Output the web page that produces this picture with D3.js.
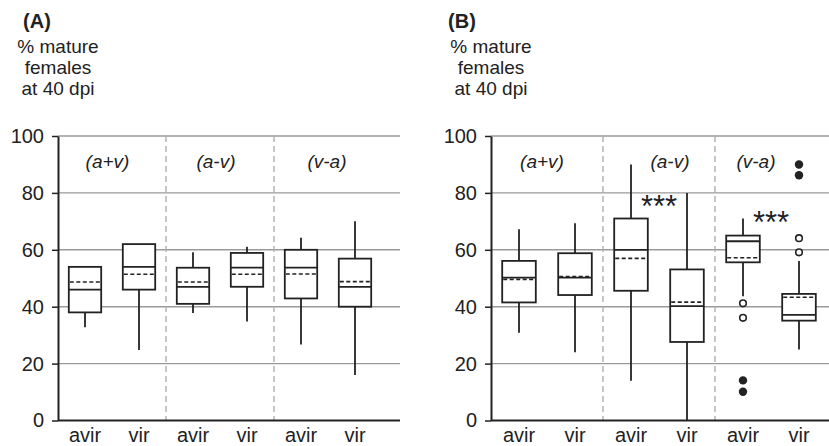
<!DOCTYPE html>
<html>
<head>
<meta charset="utf-8">
<script src="https://cdn.jsdelivr.net/npm/d3@7"></script>
<style>
  body { margin: 0; background: #fff; }
  svg text { font-family: "Liberation Sans", Arial, sans-serif; fill: #222; }
</style>
</head>
<body>
<div id="chart"></div>
<script>
// groups and strains
var groups = ['(a+v)', '(a-v)', '(v-a)'];
var strains = ['avir', 'vir'];
var yTicks = [0, 20, 40, 60, 80, 100];

// box stats per panel: [low, q1, median, q3, high, mean], order = group x strain
var statsA = [
    [32.8, 38, 46, 54, 54, 48.7],
    [24.8, 46, 54, 62, 62, 51.4],
    [37.8, 41, 47, 53.7, 59.1, 48.7],
    [34.8, 47, 53.7, 58.9, 61.1, 51.4],
    [26.7, 42.9, 53.7, 60, 64.2, 51.5],
    [16, 40, 47, 56.9, 70, 48.8]
];
var statsB = [
    [30.8, 41.5, 50.2, 56.1, 67.2, 49.6],
    [24, 44.1, 50.2, 58.8, 69.3, 50.6],
    [14, 45.6, 60, 71, 90, 57],
    [0, 27.6, 40.2, 53.1, 80, 41.6],
    [43.7, 55.6, 63, 65, 71, 57.2],
    [25, 35.1, 37.1, 44.5, 56.1, 43.3]
];
// outliers: [box index, value]
var openB = [[4, 41.2], [4, 36.1], [5, 64.1], [5, 59.1]];
var filledB = [[4, 14.1], [4, 10.1], [5, 90], [5, 86.2]];
// significance marks: [group index, y value of baseline]
var sigB = [[1, 71.5], [2, 66]];

var svg = d3.select('#chart')
    .append('svg')
    .attr('width', 829)
    .attr('height', 446)

var yTop = 136, yBottom = 420.5;

function drawPanel(p) {
    var keys = [];
    groups.forEach(function(g) {
        strains.forEach(function(s) { keys.push(g + '|' + s); });
    });

    var x = d3.scaleBand()
        .domain(keys)
        .range([p.left, p.left + p.band * 6])
        .paddingInner(0.4)
        .paddingOuter(0.2)

    var y = d3.scaleLinear()
        .domain([0, 100])
        .range([yBottom, yTop])

    var g = svg.append('g');

    // panel letter + y title
    g.append('text')
        .attr('x', p.letterX).attr('y', 28)
        .attr('text-anchor', 'middle')
        .style('font-size', '20px').style('font-weight', 'bold')
        .text(p.letter)
    var title = ['% mature', 'females', 'at 40 dpi'];
    title.forEach(function(t, i) {
        g.append('text')
            .attr('x', p.left).attr('y', 53 + i * 21)
            .attr('text-anchor', 'middle')
            .style('font-size', '19px')
            .text(t)
    })

    // grid lines
    g.selectAll('.grid')
        .data(yTicks.filter(function(d) { return d > 0; }))
        .enter().append('line')
        .attr('x1', p.left).attr('x2', p.gridRight)
        .attr('y1', function(d) { return y(d); })
        .attr('y2', function(d) { return y(d); })
        .style('stroke', '#9a9a9a').style('stroke-width', 1.4)

    // group separators
    var sepX = [1, 2].map(function(i) { return p.left + p.band * 2 * i; });
    g.selectAll('.sep')
        .data(sepX)
        .enter().append('line')
        .attr('x1', function(d) { return d; }).attr('x2', function(d) { return d; })
        .attr('y1', y(100)).attr('y2', y(0))
        .style('stroke', '#b0b0b0').style('stroke-width', 1.4)
        .style('stroke-dasharray', '6,4')

    // group labels
    groups.forEach(function(name, i) {
        g.append('text')
            .attr('x', p.left + p.band * (2 * i + 1) + p.labelShift[i])
            .attr('y', 168)
            .attr('text-anchor', 'middle')
            .style('font-size', '19px').style('font-style', 'italic')
            .text(name)
    })

    // y axis
    var yAxis = d3.axisLeft(y)
        .tickValues(yTicks)
        .tickSize(6)
        .tickPadding(8)
        .tickSizeOuter(0)
    var ya = g.append('g')
        .attr('transform', 'translate(' + p.left + ',0)')
        .call(yAxis)
    ya.select('.domain').style('stroke', '#222').style('stroke-width', 2)
    ya.selectAll('.tick line').style('stroke', '#222').style('stroke-width', 1.5)
    ya.selectAll('.tick text').style('font-size', '20px').style('fill', '#222')

    // x axis
    var xAxis = d3.axisBottom(x)
        .tickSize(0)
        .tickFormat(function(d) { return d.split('|')[1]; })
    var xa = g.append('g')
        .attr('transform', 'translate(0,' + y(0) + ')')
        .call(xAxis)
    xa.select('.domain').remove()
    xa.selectAll('.tick text')
        .attr('y', 21.5).attr('dy', null)
        .style('font-size', '20px').style('fill', '#222')
    g.append('line')
        .attr('x1', p.left).attr('x2', p.gridRight)
        .attr('y1', y(0)).attr('y2', y(0))
        .style('stroke', '#222').style('stroke-width', 2)

    // boxes
    var bw = x.bandwidth();
    var boxes = g.selectAll('.box')
        .data(p.stats)
        .enter().append('g')
        .attr('transform', function(d, i) { return 'translate(' + x(keys[i]) + ',0)'; })

    boxes.append('line')
        .attr('x1', bw / 2).attr('x2', bw / 2)
        .attr('y1', function(d) { return y(d[0]); })
        .attr('y2', function(d) { return y(d[4]); })
        .style('stroke', '#222').style('stroke-width', 1.8)
    boxes.append('rect')
        .attr('x', 0).attr('width', bw)
        .attr('y', function(d) { return y(d[3]); })
        .attr('height', function(d) { return y(d[1]) - y(d[3]); })
        .style('fill', '#fff').style('stroke', '#222').style('stroke-width', 1.8)
    boxes.append('line')
        .attr('x1', 0).attr('x2', bw)
        .attr('y1', function(d) { return y(d[2]); })
        .attr('y2', function(d) { return y(d[2]); })
        .style('stroke', '#222').style('stroke-width', 1.8)
    boxes.append('line')
        .attr('x1', 1).attr('x2', bw - 1)
        .attr('y1', function(d) { return y(d[5]); })
        .attr('y2', function(d) { return y(d[5]); })
        .style('stroke', '#222').style('stroke-width', 1.6)
        .style('stroke-dasharray', '4,2.5')

    // outliers
    g.selectAll('.open')
        .data(p.open)
        .enter().append('circle')
        .attr('cx', function(d) { return x(keys[d[0]]) + bw / 2; })
        .attr('cy', function(d) { return y(d[1]); })
        .attr('r', 3.3)
        .style('fill', '#fff').style('stroke', '#222').style('stroke-width', 1.6)
    g.selectAll('.filled')
        .data(p.filled)
        .enter().append('circle')
        .attr('cx', function(d) { return x(keys[d[0]]) + bw / 2; })
        .attr('cy', function(d) { return y(d[1]); })
        .attr('r', 4.2)
        .style('fill', '#222')

    // significance
    g.selectAll('.sig')
        .data(p.sig)
        .enter().append('text')
        .attr('x', function(d) { return p.left + p.band * (2 * d[0] + 1); })
        .attr('y', function(d) { return y(d[1]); })
        .attr('text-anchor', 'middle')
        .style('font-size', '31px')
        .text('***')
}

drawPanel({
    letter: '(A)', letterX: 37, left: 58, band: 54, gridRight: 400,
    labelShift: [-4.5, -4, -1], stats: statsA, open: [], filled: [], sig: []
})
drawPanel({
    letter: '(B)', letterX: 462, left: 491, band: 56, gridRight: 829,
    labelShift: [-5, 11, -15], stats: statsB, open: openB, filled: filledB, sig: sigB
})
</script>
</body>
</html>
